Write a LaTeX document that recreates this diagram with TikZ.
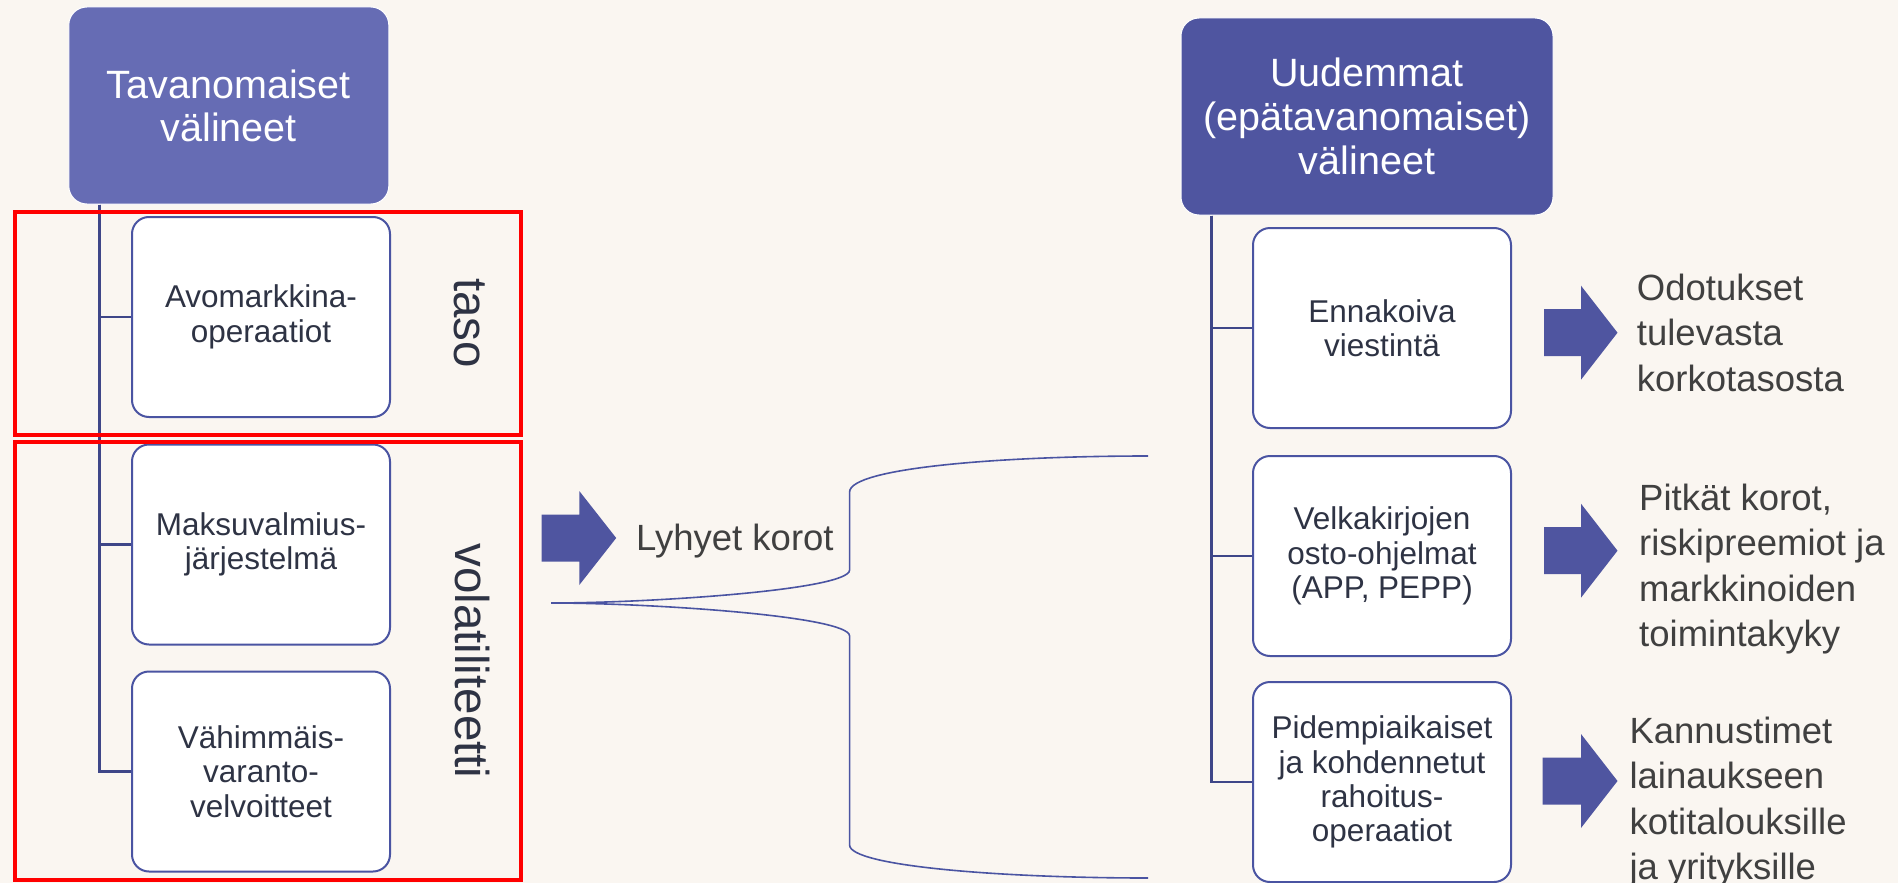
\documentclass[tikz,border=0pt]{standalone}
\usepackage{fontspec}
\setmainfont{Liberation Sans}
\definecolor{bgc}{RGB}{250,246,241}
\definecolor{hL}{RGB}{102,108,180}
\definecolor{hR}{RGB}{79,85,160}
\definecolor{bord}{RGB}{74,84,162}
\definecolor{connc}{RGB}{62,70,136}
\definecolor{arrc}{RGB}{79,85,160}
\definecolor{ctext}{RGB}{46,51,68}
\definecolor{otext}{RGB}{64,64,64}
\newcommand\bigarr[4]{\fill[arrc] (#1,#4-23.5) -- (#2,#4-23.5) -- (#2,#4-47) -- (#3,#4) -- (#2,#4+47) -- (#2,#4+23.5) -- (#1,#4+23.5) -- cycle;}
\begin{document}
\begin{tikzpicture}[x=1pt,y=-1pt,
  headL/.style={rounded corners=18pt, fill=hL, draw=white, line width=1pt, minimum width=320pt, minimum height=197pt, inner sep=0pt, text=white, align=center, font=\fontsize{39.5}{43}\selectfont},
  headR/.style={headL, fill=hR, minimum width=372pt, font=\fontsize{39.5}{44}\selectfont},
  cbox/.style={rounded corners=17pt, fill=white, draw=bord, line width=2pt, minimum width=258pt, minimum height=200pt, inner sep=0pt, align=center, text=ctext, font=\fontsize{31.5}{34.3}\selectfont},
  conn/.style={draw=connc, line width=2.5pt},
  brace/.style={draw=bord, line width=1.6pt},
  redframe/.style={draw=red, line width=4pt},
  rottxt/.style={rotate=-90, text=ctext, inner sep=0pt, font=\fontsize{47.5}{50}\selectfont},
  outtxt/.style={anchor=north west, align=left, inner sep=0pt, text=otext, font=\fontsize{36.5}{45.3}\selectfont}
]
\fill[bgc] (0,0) rectangle (1898,883);
\useasboundingbox (0,0) rectangle (1898,883);

% left column
\node[headL] (lh) at (228.8,105.5) {Tavanomaiset\\välineet};
\node[cbox] (lc1) at (261,317) {Avomarkkina-\\operaatiot};
\node[cbox] (lc2) at (261,544.5) {Maksuvalmius-\\järjestelmä};
\node[cbox] (lc3) at (261,771.5) {Vähimmäis-\\varanto-\\velvoitteet};
\draw[conn] ([xshift=31pt]lh.south west) |- (lc3.west);
\draw[conn] ([xshift=31pt]lh.south west) |- (lc1.west);
\draw[conn] ([xshift=31pt]lh.south west) |- (lc2.west);

\node[rottxt] (taso) at (470,323) {taso};
\node[rottxt] (vol) at (472,661) {volatiliteetti};

\draw[redframe] (15,212) rectangle (521,435);
\draw[redframe] (15,442) rectangle (521,880);

% middle
\bigarr{541.6}{579.3}{616.2}{538}
\node[anchor=base west, inner sep=0pt, text=otext, font=\fontsize{36.5}{40}\selectfont] (ly) at (636,550) {Lyhyet korot};

\coordinate (btip) at (551,603);
\coordinate (btop) at (1148,456);
\coordinate (bbot) at (1148,878);
\draw[brace] (btip) .. controls (650,603) and (849.6,590) .. (849.6,570) -- (849.6,492) .. controls (849.6,468) and (1000,456) .. (btop);
\draw[brace] (btip) .. controls (650,603) and (849.6,616) .. (849.6,636) -- (849.6,845) .. controls (849.6,866) and (1000,878) .. (bbot);

% right column
\node[headR] (rh) at (1367,116.5) {Uudemmat\\(epätavanomaiset)\\välineet};
\node[cbox] (rc1) at (1382,328) {Ennakoiva\\viestintä};
\node[cbox] (rc2) at (1382,556) {Velkakirjojen\\osto-ohjelmat\\(APP, PEPP)};
\node[cbox] (rc3) at (1382,782) {Pidempiaikaiset\\ja kohdennetut\\rahoitus-\\operaatiot};
\draw[conn] ([xshift=31pt]rh.south west) |- (rc3.west);
\draw[conn] ([xshift=31pt]rh.south west) |- (rc1.west);
\draw[conn] ([xshift=31pt]rh.south west) |- (rc2.west);

\bigarr{1544}{1581}{1617.5}{332.7}
\bigarr{1544}{1581}{1617.5}{550.7}
\bigarr{1542.7}{1581}{1617.5}{781}

\node[outtxt] (o1) at (1636.7,274) {Odotukset\\tulevasta\\korkotasosta};
\node[outtxt] (o2) at (1639,484) {Pitkät korot,\\riskipreemiot ja\\markkinoiden\\toimintakyky};
\node[outtxt] (o3) at (1629.3,717) {Kannustimet\\lainaukseen\\kotitalouksille\\ja yrityksille};
\end{tikzpicture}
\end{document}
